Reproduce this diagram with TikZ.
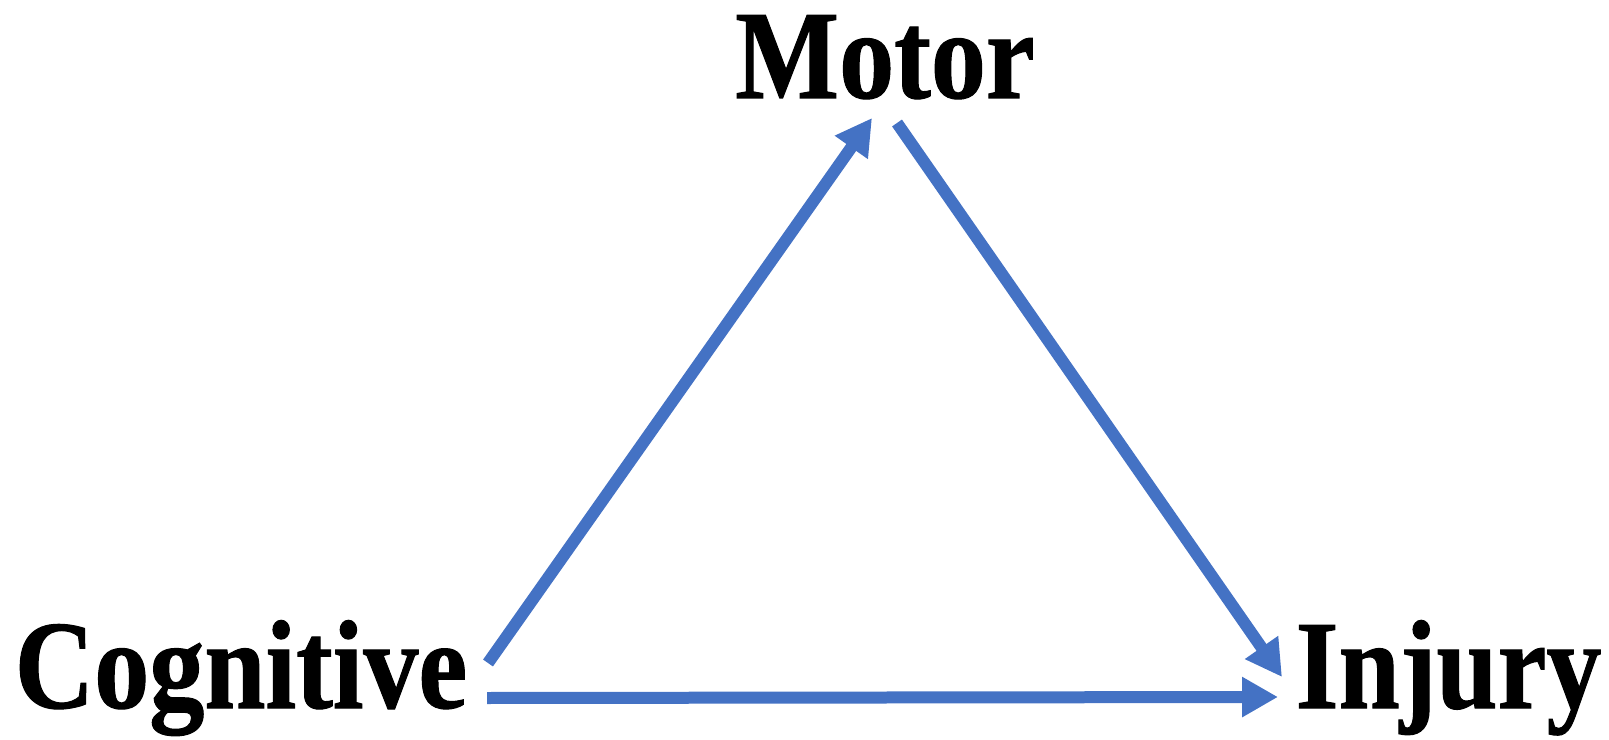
\documentclass[tikz,border=0pt]{standalone}
\usepackage{fontspec}
\setmainfont{Liberation Serif}[FakeStretch=0.87, FakeBold=0.8]
\usepackage{xcolor}
\usepackage{tikz}
\usetikzlibrary{positioning, arrows.meta}
\definecolor{arrowblue}{RGB}{68,114,196}

\begin{document}
\begin{tikzpicture}[
  factor/.style={inner sep=0pt, font=\fontsize{36}{40}\selectfont\bfseries},
  link/.style={draw=arrowblue, line width=0.12cm, -{Triangle[length=3.6mm, width=3.8mm]}}
]
\useasboundingbox (0,0) rectangle (16.09,7.39);
\node[factor, anchor=base] (mot) at (8.85,6.41) {Motor};
\node[factor, anchor=base east] (cog) at (4.68,0.31) {Cognitive};
\node[factor, anchor=base west] (inj) at (12.95,0.31) {Injury};

\draw[link] ([shift={(0.20,0.45)}]cog.base east) -- ([shift={(-0.13,-0.20)}]mot.base);
\draw[link] ([shift={(0.12,-0.25)}]mot.base) -- ([shift={(-0.13,0.31)}]inj.base west);
\draw[link] ([shift={(0.19,0.10)}]cog.base east) -- ([shift={(-0.17,0.11)}]inj.base west);
\end{tikzpicture}
\end{document}
